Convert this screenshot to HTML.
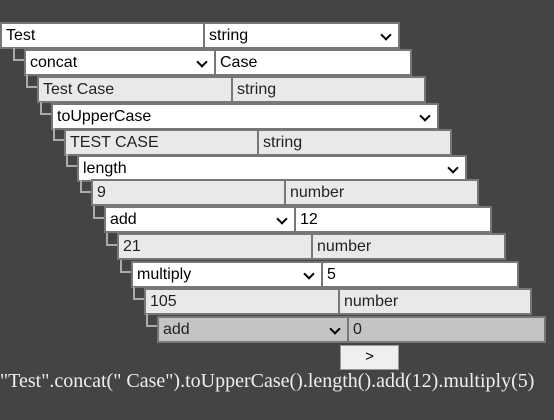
<!DOCTYPE html>
<html><head><meta charset="utf-8"><style>
html,body{margin:0;padding:0;width:554px;height:420px;background:#444;overflow:hidden;font-family:"Liberation Sans",Arial,sans-serif;}
.b{position:absolute;box-sizing:border-box;border:2px solid #777;height:27px;font-size:16px;line-height:23px;padding-left:4px;color:#000;white-space:nowrap;overflow:hidden}
.w{background:#fff}
.g{background:#e9e9e9;color:#222}
.d{background:#c4c4c4;color:#222}
.c{position:absolute;width:9px;height:11px;border-left:2px solid #aaa;border-bottom:2px solid #aaa}
.ar{position:absolute;right:8px;top:7px;width:6px;height:6px;border-right:2px solid #000;border-bottom:2px solid #000;transform:rotate(45deg)}
.txt{position:absolute;left:0;top:370px;font-family:"Liberation Serif",serif;font-size:20px;color:#eee;white-space:nowrap}
.btn{position:absolute;left:340px;top:345px;width:59px;height:25px;background:#efefef;border:1px solid #999;box-sizing:border-box;text-align:center;font-size:15px;line-height:22px}
</style></head><body>
<div class="b w" style="left:0;top:22px;width:205px">Test</div>
<div class="b w" style="left:203px;top:22px;width:197px">string<span class="ar"></span></div>

<div class="c" style="left:13px;top:48px"></div>
<div class="b w" style="left:24px;top:49px;width:192px">concat<span class="ar"></span></div>
<div class="b w" style="left:214px;top:49px;width:198px">Case</div>

<div class="c" style="left:26px;top:75px"></div>
<div class="b g" style="left:37px;top:76px;width:197px">Test Case</div>
<div class="b g" style="left:231px;top:76px;width:195px">string</div>

<div class="c" style="left:40px;top:102px"></div>
<div class="b w" style="left:51px;top:103px;width:388px">toUpperCase<span class="ar"></span></div>

<div class="c" style="left:53px;top:128px"></div>
<div class="b g" style="left:64px;top:129px;width:196px">TEST CASE</div>
<div class="b g" style="left:257px;top:129px;width:195px">string</div>

<div class="c" style="left:66px;top:154px"></div>
<div class="b w" style="left:77px;top:155px;width:390px">length<span class="ar"></span></div>

<div class="c" style="left:80px;top:180px"></div>
<div class="b g" style="left:91px;top:179px;width:196px">9</div>
<div class="b g" style="left:284px;top:179px;width:195px">number</div>

<div class="c" style="left:93px;top:206px"></div>
<div class="b w" style="left:104px;top:206px;width:192px">add<span class="ar"></span></div>
<div class="b w" style="left:294px;top:206px;width:198px">12</div>

<div class="c" style="left:106px;top:233px"></div>
<div class="b g" style="left:117px;top:233px;width:197px">21</div>
<div class="b g" style="left:311px;top:233px;width:195px">number</div>

<div class="c" style="left:120px;top:260px"></div>
<div class="b w" style="left:131px;top:261px;width:192px">multiply<span class="ar"></span></div>
<div class="b w" style="left:321px;top:261px;width:198px">5</div>

<div class="c" style="left:133px;top:287px"></div>
<div class="b g" style="left:144px;top:288px;width:197px">105</div>
<div class="b g" style="left:338px;top:288px;width:194px">number</div>

<div class="c" style="left:146px;top:314px"></div>
<div class="b d" style="left:157px;top:316px;width:192px">add<span class="ar"></span></div>
<div class="b d" style="left:347px;top:316px;width:199px">0</div>

<div class="btn">&gt;</div>
<div class="txt">"Test".concat(" Case").toUpperCase().length().add(12).multiply(5)</div>
</body></html>
